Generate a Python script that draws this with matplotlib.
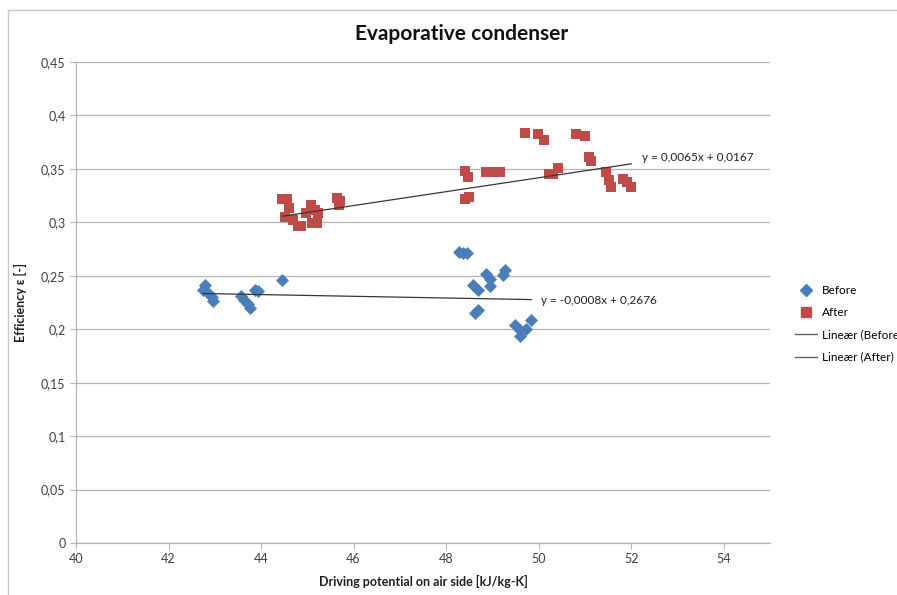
import matplotlib
matplotlib.use("Agg")
import matplotlib.pyplot as plt
from matplotlib.lines import Line2D
import numpy as np

plt.rcParams['font.family'] = ['Lato', 'DejaVu Sans']

# Driving potential [kJ/kg-K] and efficiency before the retrofit
before_x = [42.78, 42.74, 42.84, 42.93, 42.96, 43.57, 43.64, 43.71, 43.77, 43.86,
            43.94, 44.46, 48.28, 48.36, 48.46, 48.58, 48.69, 48.87, 48.94, 48.94,
            49.23, 49.27, 48.69, 48.62, 49.48, 49.59, 49.59, 49.73, 49.84]
before_y = [0.241, 0.237, 0.235, 0.230, 0.226, 0.231, 0.227, 0.224, 0.220, 0.237,
            0.236, 0.246, 0.272, 0.271, 0.271, 0.241, 0.237, 0.252, 0.247, 0.240,
            0.251, 0.255, 0.218, 0.215, 0.204, 0.199, 0.194, 0.200, 0.209]

# ... and after
after_x = [44.46, 44.57, 44.60, 44.52, 44.68, 44.79, 44.86, 44.97, 45.07, 45.16,
           45.10, 45.20, 45.23, 45.64, 45.70, 45.68, 48.40, 48.50, 48.41, 48.48,
           48.87, 49.02, 49.17, 49.70, 49.98, 50.11, 50.22, 50.32, 50.41, 50.81,
           51.00, 51.08, 51.13, 51.45, 51.51, 51.57, 51.82, 51.92, 52.00]
after_y = [0.322, 0.322, 0.313, 0.305, 0.302, 0.297, 0.297, 0.309, 0.316, 0.312,
           0.299, 0.299, 0.309, 0.323, 0.320, 0.316, 0.322, 0.324, 0.348, 0.342,
           0.347, 0.347, 0.347, 0.384, 0.383, 0.377, 0.345, 0.345, 0.351, 0.383,
           0.381, 0.361, 0.357, 0.347, 0.340, 0.333, 0.341, 0.338, 0.333]

# Linear trendline coefficients (slope, intercept)
before_fit = [-0.0008, 0.2676]
after_fit = [0.0065, 0.0167]

x_ticks = [40, 42, 44, 46, 48, 50, 52, 54]
y_ticks = [0, 0.05, 0.1, 0.15, 0.2, 0.25, 0.3, 0.35, 0.4, 0.45]
y_tick_labels = ['0', '0,05', '0,1', '0,15', '0,2', '0,25', '0,3', '0,35', '0,4', '0,45']

blue = '#4A7EBB'
red = '#BE4B48'
trend_color = '#3c3434'
grid_color = '#b4b4b4'
text_color = '#404040'

fig = plt.figure(figsize=(8.97, 5.95), dpi=100)
ax = fig.add_axes([76 / 897, 1 - 543 / 595, (770 - 76) / 897, (543 - 62) / 595])

# outer chart frame (top and left edges)
frame_x, frame_y = 8 / 897, 1 - 10 / 595
fig.add_artist(Line2D([frame_x, 1.05], [frame_y, frame_y], transform=fig.transFigure,
                      color='#c8c8c8', lw=1.0))
fig.add_artist(Line2D([frame_x, frame_x], [frame_y, -0.05], transform=fig.transFigure,
                      color='#c8c8c8', lw=1.0))

ax.scatter(before_x, before_y, marker='D', s=44, color=blue, zorder=3, linewidths=0)
ax.scatter(after_x, after_y, marker='s', s=50, color=red, zorder=3, linewidths=0)

bx = np.array([min(before_x), max(before_x)])
ax.plot(bx, before_fit[0] * bx + before_fit[1], color=trend_color, lw=0.9, zorder=4)
axx = np.array([min(after_x), max(after_x)])
ax.plot(axx, after_fit[0] * axx + after_fit[1], color=trend_color, lw=0.9, zorder=4)


def fmt(v, digits):
    return f"{v:.{digits}f}".replace('.', ',')


ax.text(50.04, 0.2273, f"y = {fmt(before_fit[0], 4)}x + {fmt(before_fit[1], 4)}",
        fontsize=8.5, color='#202020', va='center', ha='left')
ax.text(52.24, 0.3605, f"y = {fmt(after_fit[0], 4)}x + {fmt(after_fit[1], 4)}",
        fontsize=8.5, color='#202020', va='center', ha='left')

ax.set_xlim(40, 55)
ax.set_ylim(0, 0.45)
ax.set_xticks(x_ticks)
ax.set_xticklabels([str(t) for t in x_ticks])
ax.set_yticks(y_ticks)
ax.set_yticklabels(y_tick_labels)
ax.tick_params(axis='both', labelsize=9, colors=text_color, length=4, width=0.8,
               direction='out', color=grid_color)
ax.yaxis.grid(True, color=grid_color, linewidth=0.9)
ax.set_axisbelow(True)
for side in ('top', 'right'):
    ax.spines[side].set_visible(False)
for side in ('left', 'bottom'):
    ax.spines[side].set_color(grid_color)
    ax.spines[side].set_linewidth(0.9)

ax.set_xlabel('Driving potential on air side [kJ/kg-K]', fontsize=9, fontweight='bold',
              color='#202020', labelpad=7)
ax.set_ylabel('Efficiency ε [-]', fontsize=9, fontweight='bold', color='#202020',
              labelpad=10)
fig.text(462 / 897, 1 - 34 / 595, 'Evaporative condenser', fontsize=15,
         fontweight='bold', ha='center', va='center', color='#111111')

handles = [
    Line2D([], [], marker='D', color=blue, linestyle='none', markersize=6),
    Line2D([], [], marker='s', color=red, linestyle='none', markersize=7),
    Line2D([], [], color='#6a5e58', lw=1.0),
    Line2D([], [], color='#6a5e58', lw=1.0),
]
labels = ['Before', 'After', 'Lineær (Before)', 'Lineær (After)']
fig.legend(handles, labels, loc='upper left', bbox_to_anchor=(795 / 897, 1 - 285 / 595),
           frameon=False, fontsize=8.5, handlelength=1.9, handletextpad=0.35,
           labelspacing=0.95, borderaxespad=0, borderpad=0)

fig.savefig('out.png', dpi=100)
